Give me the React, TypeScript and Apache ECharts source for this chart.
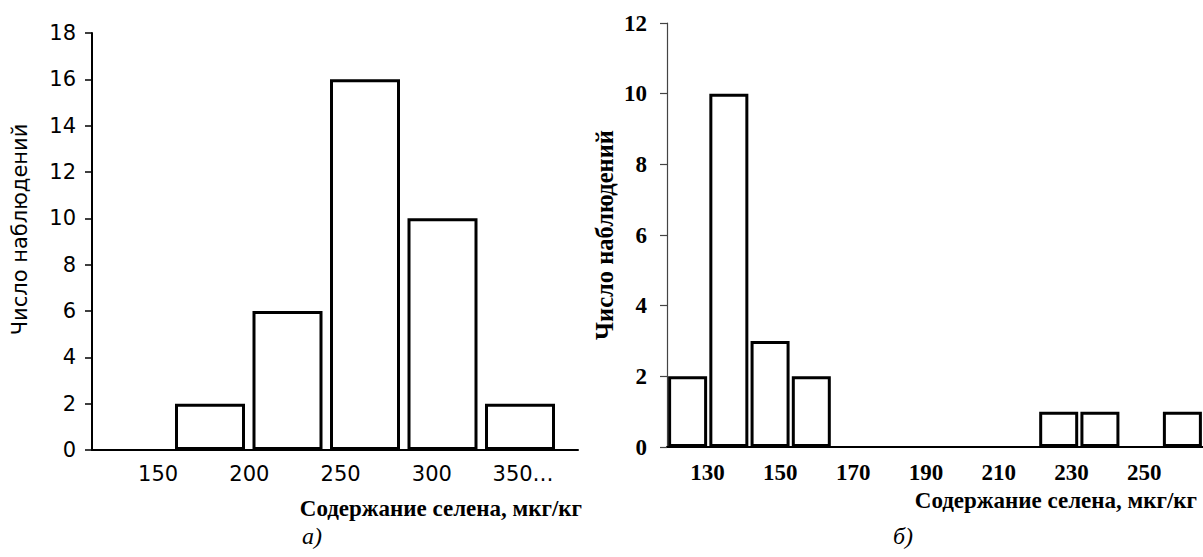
import React, { useEffect, useRef } from "react";
import * as echarts from "echarts";

// Left histogram (a)
const leftBins = ["150–200", "200–250", "250–300", "300–350", "350…"];
const leftCounts = [2, 6, 16, 10, 2];
const leftTickValues = [150, 200, 250, 300, 350];
const leftYTicks = { min: 0, max: 18, interval: 2 };

// Right histogram (б)
const rightBins = ["120", "130", "140", "150", "160", "170", "180", "190", "200", "210", "220", "230", "240"];
const rightCounts = [2, 10, 3, 2, 0, 0, 0, 0, 0, 1, 1, 0, 1];
const rightTickValues = [130, 150, 170, 190, 210, 230, 250];
const rightYTicks = { min: 0, max: 12, interval: 2 };

const yTitle = "Число наблюдений";
const xTitle = "Содержание селена, мкг/кг";
const leftTag = "а)";
const rightTag = "б)";

export default function App() {
  const ref = useRef<HTMLDivElement>(null);
  useEffect(() => {
    if (!ref.current) return;
    const chart = echarts.init(ref.current, null, { renderer: "svg" });
    const sans = "DejaVu Sans";
    const serif = "Liberation Serif";
    const barStyle = { color: "#ffffff", borderColor: "#000000", borderWidth: 3 };
    chart.setOption({
      animation: false,
      backgroundColor: "#ffffff",
      grid: [
        { left: 92, top: 33, width: 486, height: 417 },
        { left: 171.25, top: 33, width: 387.5, height: 417 },
        { left: 667, top: 23, width: 536, height: 424 },
      ],
      xAxis: [
        {
          gridIndex: 0,
          type: "value",
          position: "bottom",
          min: 113.8,
          max: 380.1,
          splitLine: { show: false },
          axisLine: { show: true, lineStyle: { color: "#000", width: 2 } },
          axisTick: { show: false },
          axisLabel: {
            customValues: leftTickValues,
            margin: 13,
            color: "#000",
            fontFamily: sans,
            fontSize: 21,
            formatter: (v: number) => (v === leftTickValues[leftTickValues.length - 1] ? v + "…" : String(v)),
          },
        },
        { gridIndex: 1, type: "category", data: leftBins, show: false },
        { gridIndex: 2, type: "category", data: rightBins, show: false },
        {
          gridIndex: 2,
          type: "value",
          position: "bottom",
          min: 118.85,
          max: 266.15,
          splitLine: { show: false },
          axisLine: { show: true, lineStyle: { color: "#000", width: 2 } },
          axisTick: { show: false },
          axisLabel: {
            customValues: rightTickValues,
            margin: 14,
            color: "#000",
            fontFamily: serif,
            fontWeight: "bold",
            fontSize: 23,
          },
        },
      ],
      yAxis: [
        {
          gridIndex: 0,
          type: "value",
          ...leftYTicks,
          splitLine: { show: false },
          axisLine: { show: true, lineStyle: { color: "#000", width: 2 } },
          axisTick: { show: true, length: 7, lineStyle: { color: "#000", width: 1.5 } },
          axisLabel: { margin: 16, color: "#000", fontFamily: sans, fontSize: 21 },
          name: yTitle,
          nameLocation: "middle",
          nameRotate: 90,
          nameGap: 62,
          nameTextStyle: { color: "#000", fontFamily: sans, fontSize: 21, padding: [0, 0, 0, 24] },
        },
        { gridIndex: 1, type: "value", ...leftYTicks, show: false },
        {
          gridIndex: 2,
          type: "value",
          ...rightYTicks,
          splitLine: { show: false },
          axisLine: { show: true, lineStyle: { color: "#444", width: 1.2 } },
          axisTick: { show: true, length: 7, lineStyle: { color: "#444", width: 1.2 } },
          axisLabel: { margin: 20, color: "#000", fontFamily: serif, fontWeight: "bold", fontSize: 23 },
          name: yTitle,
          nameLocation: "middle",
          nameRotate: 90,
          nameGap: 50,
          nameTextStyle: { color: "#000", fontFamily: serif, fontWeight: "bold", fontSize: 24.5 },
        },
      ],
      series: [
        {
          type: "bar",
          xAxisIndex: 1,
          yAxisIndex: 1,
          barWidth: 70,
          data: leftCounts.map((v) => (v === 0 ? null : v)),
          itemStyle: barStyle,
        },
        {
          type: "bar",
          xAxisIndex: 2,
          yAxisIndex: 2,
          barWidth: 39,
          data: rightCounts.map((v) => (v === 0 ? null : v)),
          itemStyle: barStyle,
        },
      ],
      graphic: [
        {
          type: "text",
          right: 1203 - 582,
          top: 497,
          style: { text: xTitle, fill: "#000", font: `bold 23px "${serif}"` },
        },
        {
          type: "text",
          right: 6,
          top: 489,
          style: { text: xTitle, fill: "#000", font: `bold 23px "${serif}"` },
        },
        {
          type: "text",
          left: 302,
          top: 524,
          style: { text: leftTag, fill: "#000", font: `italic 24px "${serif}"` },
        },
        {
          type: "text",
          left: 893,
          top: 524,
          style: { text: rightTag, fill: "#000", font: `italic 24px "${serif}"` },
        },
      ],
    });
    return () => chart.dispose();
  }, []);
  return (
    <div
      ref={ref}
      style={{ position: "fixed", left: 0, top: 0, width: 1203, height: 557, background: "#fff" }}
    />
  );
}
